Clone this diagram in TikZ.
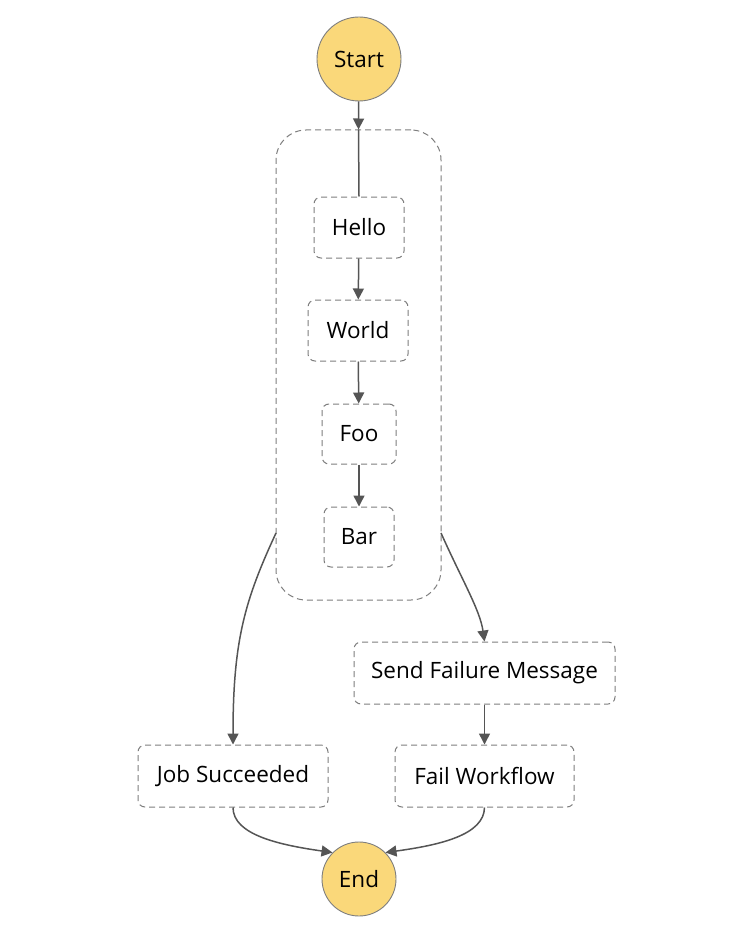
\documentclass[tikz,border=0pt]{standalone}
\usepackage{fontspec}
\setmainfont{Open Sans}
\usetikzlibrary{arrows.meta}
\definecolor{startyellow}{HTML}{FAD87A}
\definecolor{linegray}{HTML}{555555}
\definecolor{dashgray}{HTML}{7E7E7E}
\tikzset{
  statebox/.style={draw=dashgray, dash pattern=on 6pt off 4pt, rounded corners=7pt, line width=1pt, inner sep=0pt, font=\fontsize{22.5}{26}\selectfont, text=black},
  endpoint/.style={circle, draw=dashgray, line width=0.9pt, fill=startyellow, inner sep=0pt, font=\fontsize{22.5}{26}\selectfont, text=black},
  flow/.style={draw=linegray, line width=1.5pt, -{Triangle[length=11pt,width=11pt]}},
  flowplain/.style={draw=linegray, line width=1.5pt},
}
\begin{document}
\begin{tikzpicture}[x=1pt,y=-1pt]
\useasboundingbox (0,0) rectangle (734,944);
% container
\node[statebox, rounded corners=30pt, minimum width=165pt, minimum height=470pt] (par) at (358.5,365) {};
\node[endpoint, minimum size=84pt] (start) at (359,59) {Start};
\node[statebox, minimum width=90pt, minimum height=61pt] (hello) at (359,227.5) {Hello};
\node[statebox, minimum width=100pt, minimum height=61pt] (world) at (358,330.5) {World};
\node[statebox, minimum width=74pt, minimum height=60pt] (foo) at (359,434) {Foo};
\node[statebox, minimum width=70pt, minimum height=60pt] (bar) at (359,537) {Bar};
\node[statebox, minimum width=261pt, minimum height=62pt] (send) at (484.5,673) {Send Failure Message};
\node[statebox, minimum width=179pt, minimum height=62pt] (fail) at (484.5,776) {Fail Workflow};
\node[statebox, minimum width=190pt, minimum height=62pt] (job) at (233,776) {Job Succeeded};
\node[endpoint, minimum size=74pt] (end) at (359,879) {End};
\coordinate (parL) at (276,533);
\coordinate (parR) at (441,533);
% connectors
\draw[flow] (start) -- (par.north);
\draw[flowplain] (par.north) -- (hello.north);
\draw[flow] (hello) -- (world);
\draw[flow] (world) -- (foo);
\draw[flow] (foo) -- (bar);
\draw[flow] (parL) .. controls (245,600) and (233,640) .. (job.north);
\draw[flow] (parR) .. controls (462,580) and (480,610) .. (send.north);
\draw[flow] (send) -- (fail);
\draw[flow] (job.south) .. controls (233,835) and (280,845) .. (end.north west);
\draw[flow] (fail.south) .. controls (484,835) and (440,845) .. (end.north east);
\end{tikzpicture}
\end{document}
